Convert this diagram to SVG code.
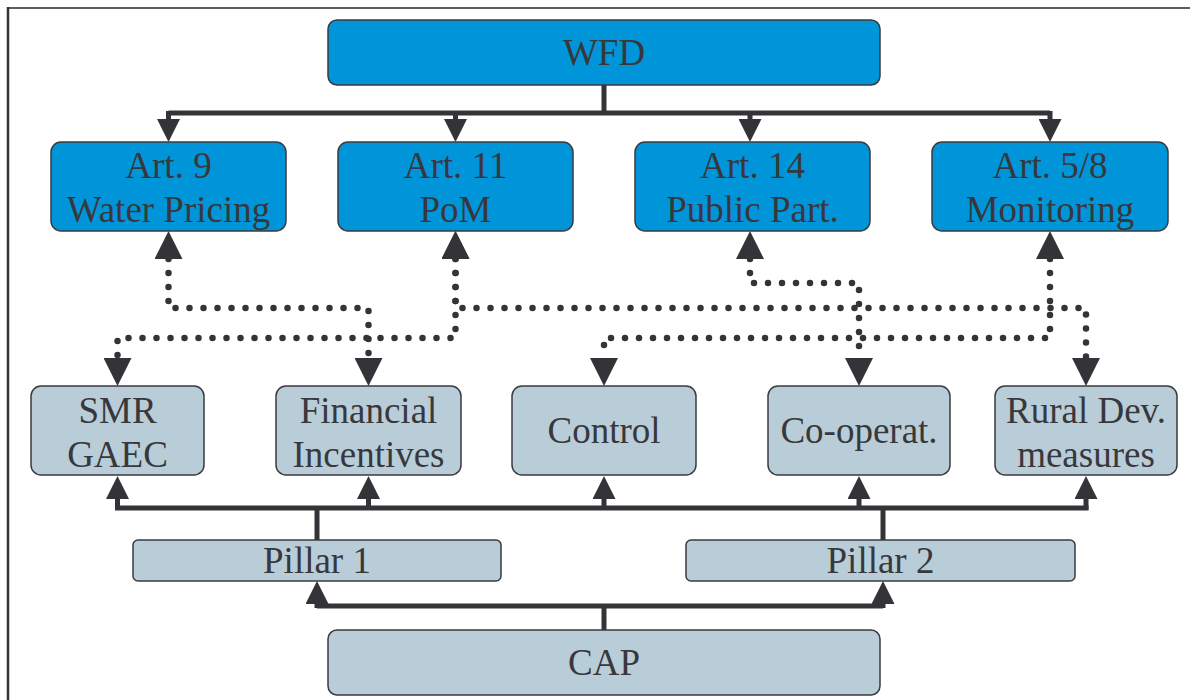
<svg xmlns="http://www.w3.org/2000/svg" width="1190" height="700" viewBox="0 0 1190 700">
  <style>
    .wfd { fill: #0095d9; stroke: #3a3a40; stroke-width: 1.5; }
    .cap { fill: #b8cdd8; stroke: #3a3a40; stroke-width: 1.5; }
    .lbl { font-family: "Liberation Serif", "Times New Roman", serif; font-size: 37px; fill: #38383c; text-anchor: middle; }
    .solid { fill: none; stroke: #343438; stroke-width: 5; }
    .dots { fill: none; stroke: #343438; stroke-width: 6.5; stroke-linecap: round; stroke-dasharray: 0 14; }
  </style>
  <defs>
    <marker id="head" viewBox="0 0 23 23" refX="0" refY="11.5" markerWidth="23" markerHeight="23" markerUnits="userSpaceOnUse" orient="auto-start-reverse">
      <path d="M0,0 L23,11.5 L0,23 Z" fill="#343438"/>
    </marker>
    <marker id="headDot" viewBox="0 0 28 28" refX="0" refY="14" markerWidth="28" markerHeight="28" markerUnits="userSpaceOnUse" orient="auto-start-reverse">
      <path d="M0,0 L28,14 L0,28 Z" fill="#343438"/>
    </marker>
  </defs>

  <!-- frame -->
  <g id="frame">
    <line x1="8" y1="8" x2="1190" y2="8" stroke="#5c5c5c" stroke-width="2"/>
    <line x1="8" y1="7" x2="8" y2="700" stroke="#333" stroke-width="2.5"/>
  </g>

  <!-- connectors -->
  <g id="connectors">
    <!-- WFD to articles -->
    <path class="solid" d="M604,85 V113"/>
    <path class="solid" d="M168.5,113 H1050"/>
    <path class="solid" d="M168.5,111 V119" marker-end="url(#head)"/>
    <path class="solid" d="M455.5,113 V119" marker-end="url(#head)"/>
    <path class="solid" d="M750,113 V119" marker-end="url(#head)"/>
    <path class="solid" d="M1050,111 V119" marker-end="url(#head)"/>

    <!-- article links to measures -->
    <path class="dots" d="M168.5,259 V308 H368.5 V358" marker-start="url(#headDot)" marker-end="url(#headDot)"/>
    <path class="dots" d="M455.5,259 V338 H117.5 V358" marker-start="url(#headDot)" marker-end="url(#headDot)"/>
    <path class="dots" d="M455.5,259 V308 H1086 V358" marker-start="url(#headDot)" marker-end="url(#headDot)"/>
    <path class="dots" d="M750,259 V283 H859 V358" marker-start="url(#headDot)" marker-end="url(#headDot)"/>
    <path class="dots" d="M1050,259 V338 H604 V358" marker-start="url(#headDot)" marker-end="url(#headDot)"/>

    <!-- pillars to measures -->
    <path class="solid" d="M115,508 H1088.5"/>
    <path class="solid" d="M317,508 V540"/>
    <path class="solid" d="M883,508 V540"/>
    <path class="solid" d="M117.5,510 V499" marker-end="url(#head)"/>
    <path class="solid" d="M368.5,508 V499" marker-end="url(#head)"/>
    <path class="solid" d="M604,508 V499" marker-end="url(#head)"/>
    <path class="solid" d="M859,508 V499" marker-end="url(#head)"/>
    <path class="solid" d="M1086,510 V499" marker-end="url(#head)"/>

    <!-- CAP to pillars -->
    <path class="solid" d="M604,630 V606"/>
    <path class="solid" d="M317,606 H883"/>
    <path class="solid" d="M317,608 V604" marker-end="url(#head)"/>
    <path class="solid" d="M883,608 V604" marker-end="url(#head)"/>
  </g>

  <!-- WFD -->
  <g id="wfd">
    <rect class="wfd" x="328" y="20" width="552" height="65" rx="9"/>
    <text class="lbl" x="604" y="65">WFD</text>
  </g>

  <!-- WFD articles -->
  <g id="art9">
    <rect class="wfd" x="51" y="142" width="235" height="89" rx="10"/>
    <text class="lbl" x="168.5" y="178">Art. 9</text>
    <text class="lbl" x="168.5" y="222">Water Pricing</text>
  </g>
  <g id="art11">
    <rect class="wfd" x="338" y="142" width="235" height="89" rx="10"/>
    <text class="lbl" x="455.5" y="178">Art. 11</text>
    <text class="lbl" x="455.5" y="222">PoM</text>
  </g>
  <g id="art14">
    <rect class="wfd" x="635" y="142" width="235" height="89" rx="10"/>
    <text class="lbl" x="752.5" y="178">Art. 14</text>
    <text class="lbl" x="752.5" y="222">Public Part.</text>
  </g>
  <g id="art58">
    <rect class="wfd" x="932" y="142" width="236" height="89" rx="10"/>
    <text class="lbl" x="1050" y="178">Art. 5/8</text>
    <text class="lbl" x="1050" y="222">Monitoring</text>
  </g>

  <!-- CAP measures -->
  <g id="smr">
    <rect class="cap" x="31" y="386" width="173" height="89" rx="10"/>
    <text class="lbl" x="117.5" y="423">SMR</text>
    <text class="lbl" x="117.5" y="467">GAEC</text>
  </g>
  <g id="financial">
    <rect class="cap" x="276" y="386" width="185" height="89" rx="10"/>
    <text class="lbl" x="368.5" y="423">Financial</text>
    <text class="lbl" x="368.5" y="467">Incentives</text>
  </g>
  <g id="control">
    <rect class="cap" x="512" y="386" width="184" height="89" rx="10"/>
    <text class="lbl" x="604" y="443">Control</text>
  </g>
  <g id="cooperat">
    <rect class="cap" x="768" y="386" width="182" height="89" rx="10"/>
    <text class="lbl" x="859" y="443">Co-operat.</text>
  </g>
  <g id="ruraldev">
    <rect class="cap" x="995" y="386" width="182" height="89" rx="10"/>
    <text class="lbl" x="1086" y="423">Rural Dev.</text>
    <text class="lbl" x="1086" y="467">measures</text>
  </g>

  <!-- pillars -->
  <g id="pillar1">
    <rect class="cap" x="133" y="540" width="368" height="41" rx="5"/>
    <text class="lbl" x="317" y="573">Pillar 1</text>
  </g>
  <g id="pillar2">
    <rect class="cap" x="686" y="540" width="389" height="41" rx="5"/>
    <text class="lbl" x="880.5" y="573">Pillar 2</text>
  </g>

  <!-- CAP -->
  <g id="cap">
    <rect class="cap" x="328" y="630" width="552" height="65" rx="9"/>
    <text class="lbl" x="604" y="675">CAP</text>
  </g>
</svg>
